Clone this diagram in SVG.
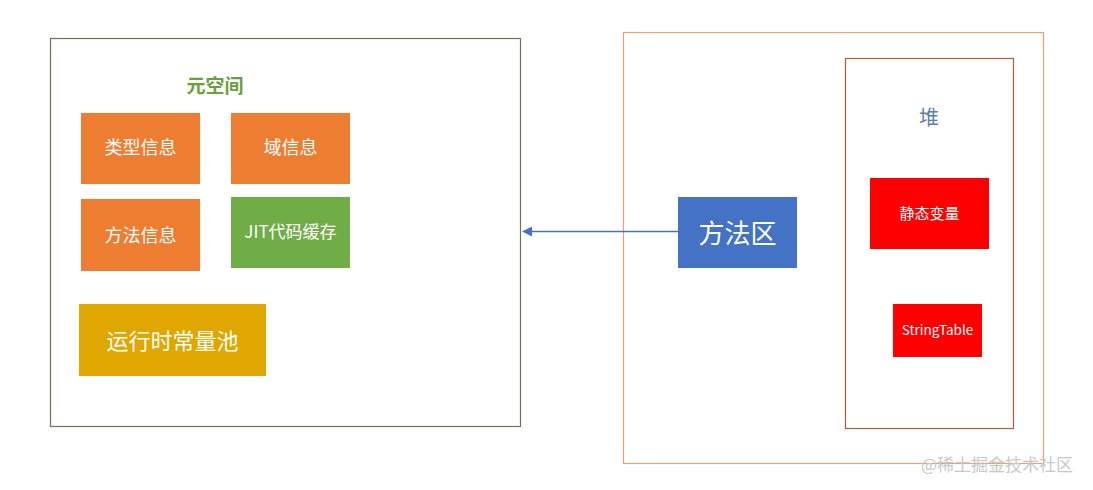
<svg xmlns="http://www.w3.org/2000/svg" width="1093" height="490" viewBox="0 0 1093 490">
<style>
text{font-family:"Noto Sans CJK SC","Noto Sans",sans-serif;text-anchor:middle;dominant-baseline:central}
.w{fill:#fff}
.or{fill:#ED7D31}
</style>
<defs>
<marker id="ah" viewBox="0 0 10 10" refX="1" refY="5" markerWidth="10" markerHeight="10" markerUnits="userSpaceOnUse" orient="auto-start-reverse">
<path d="M0,0L10,5L0,10z" fill="#4472C4"/>
</marker>
</defs>
<rect width="1093" height="490" fill="#fff"/>
<g id="metaspace">
<rect x="50.5" y="38.5" width="470" height="388" fill="none" stroke="#5f7a4f" stroke-width="1.2"/>
<text x="215" y="84" font-size="19" font-weight="bold" fill="#6a9f3e">元空间</text>
</g>
<g id="typeinfo"><rect class="or" x="81" y="113" width="119" height="71"/><text class="w" x="140.5" y="146" font-size="18">类型信息</text></g>
<g id="fieldinfo"><rect class="or" x="231" y="113" width="119" height="71"/><text class="w" x="290.5" y="146" font-size="18">域信息</text></g>
<g id="methodinfo"><rect class="or" x="81" y="199" width="119" height="72"/><text class="w" x="140.5" y="234" font-size="18">方法信息</text></g>
<g id="jit"><rect x="231" y="197" width="119" height="71" fill="#70AD47"/><text class="w" x="290.5" y="230" font-size="17">JIT代码缓存</text></g>
<g id="rtpool"><rect x="79" y="304" width="187" height="72" fill="#DFA700"/><text class="w" x="172.5" y="339" font-size="22">运行时常量池</text></g>
<g id="outer">
<rect x="623.5" y="32.5" width="420" height="431" fill="none" stroke="#ECA070" stroke-width="1.2"/>
</g>
<g id="heap">
<rect x="845.5" y="58.5" width="168" height="370" fill="none" stroke="#B8553A" stroke-width="1.2"/>
<text x="929" y="116" font-size="20" fill="#5B80A8">堆</text>
</g>
<g id="staticvar"><rect x="870" y="178" width="119" height="71" fill="#FF0000"/><text class="w" x="929.5" y="212" font-size="15">静态变量</text></g>
<g id="stringtable"><rect x="893" y="304" width="89" height="53" fill="#FF0000"/><text class="w" x="937.5" y="329" font-size="13.5">StringTable</text></g>
<g id="methodarea"><rect x="678" y="197" width="119" height="71" fill="#4472C4"/><text class="w" x="737.5" y="231" font-size="26">方法区</text></g>
<g id="connectors">
<line x1="678" y1="231.5" x2="531" y2="231.5" stroke="#4472C4" stroke-width="1.5" marker-end="url(#ah)"/>
</g>
<text x="997" y="463" font-size="17" fill="#c8c8c8">@稀土掘金技术社区</text>
</svg>
